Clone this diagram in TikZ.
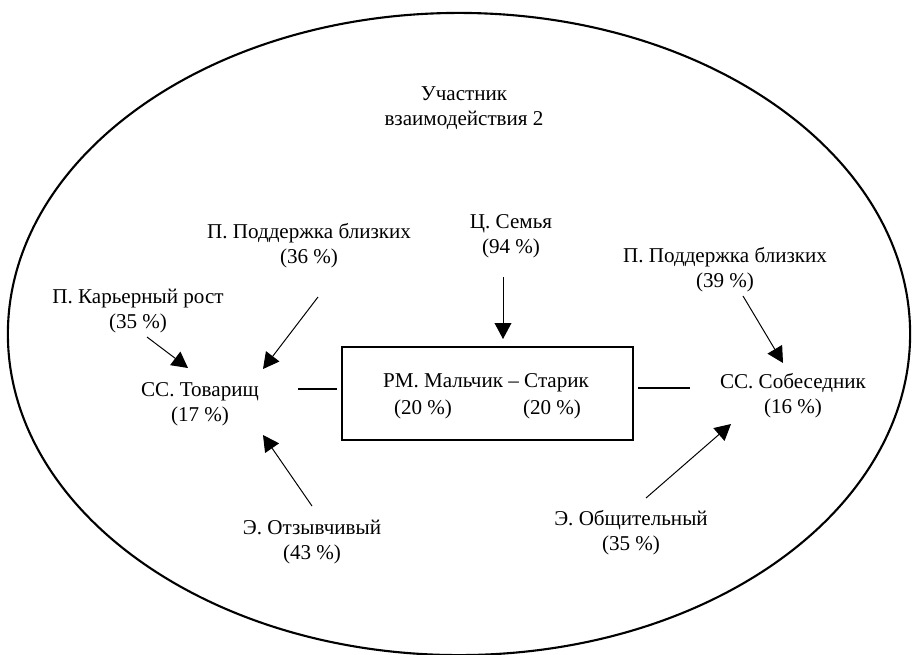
\documentclass[tikz,border=0pt]{standalone}
\usepackage{fontspec}
\setmainfont{Liberation Serif}
\usetikzlibrary{positioning}
\usetikzlibrary{arrows.meta}

\tikzset{
	lbl/.style={align=center, inner sep=0pt, font=\fontsize{15}{17.8}\selectfont},
	arr/.style={line width=0.7pt, -{Triangle[length=0.4cm,width=0.42cm]}},
	link/.style={line width=0.8pt},
	rmbox/.style={draw, line width=1.5pt, minimum width=7.275cm, minimum height=2.325cm, inner sep=0pt}
}

\begin{document}
\begin{tikzpicture}[x=0.025cm, y=-0.025cm]
\useasboundingbox (0,0) rectangle (913,654);

%body
\draw[line width=1.5pt] (459,334) ellipse [x radius=11.275cm, y radius=8.025cm];

%labels
\node[lbl] (uch)  at (464,108) {Участник\\взаимодействия 2};
\node[lbl] (pod1) at (309,246) {П. Поддержка близких\\(36 \%)};
\node[lbl] (sem)  at (511,236) {Ц. Семья\\(94 \%)};
\node[lbl] (pod2) at (725,270) {П. Поддержка близких\\(39 \%)};
\node[lbl] (kar)  at (138,311) {П. Карьерный рост\\(35 \%)};
\node[lbl] (tov)  at (200,404) {СС. Товарищ\\(17 \%)};
\node[lbl] (sob)  at (793,396) {СС. Собеседник\\(16 \%)};
\node[lbl] (otz)  at (312,542) {Э. Отзывчивый\\(43 \%)};
\node[lbl] (obs)  at (631,533) {Э. Общительный\\(35 \%)};

%role box
\node[rmbox] (rm) at (487.5,393.5) {};
\node[lbl] (rmtitle) at (486,383) {РМ. Мальчик -- Старик};
\node[lbl] (rmleft)  at (423,409) {(20 \%)};
\node[lbl] (rmright) at (552,409) {(20 \%)};

%arrow ends
\coordinate (karS)  at (147,337);  \coordinate (karT)  at (188,368);
\coordinate (pod1S) at (318,297);  \coordinate (pod1T) at (263,369);
\coordinate (otzS)  at (312,506);  \coordinate (otzT)  at (263,435);
\coordinate (semS)  at (503,277);  \coordinate (semT)  at (503,339);
\coordinate (pod2S) at (743,296);  \coordinate (pod2T) at (783,363);
\coordinate (obsS)  at (646,498);  \coordinate (obsT)  at (731,424);
\coordinate (tovE)  at (298,389);
\coordinate (sobW)  at (690,388);

%arrows
\draw[arr] (karS) -- (karT);
\draw[arr] (pod1S) -- (pod1T);
\draw[arr] (otzS) -- (otzT);
\draw[arr] (semS) -- (semT);
\draw[arr] (pod2S) -- (pod2T);
\draw[arr] (obsS) -- (obsT);

%links
\draw[link, shorten >=0.1cm] (tovE) -- (rm.west |- tovE);
\draw[link, shorten <=0.1cm] (rm.east |- sobW) -- (sobW);

\end{tikzpicture}
\end{document}
